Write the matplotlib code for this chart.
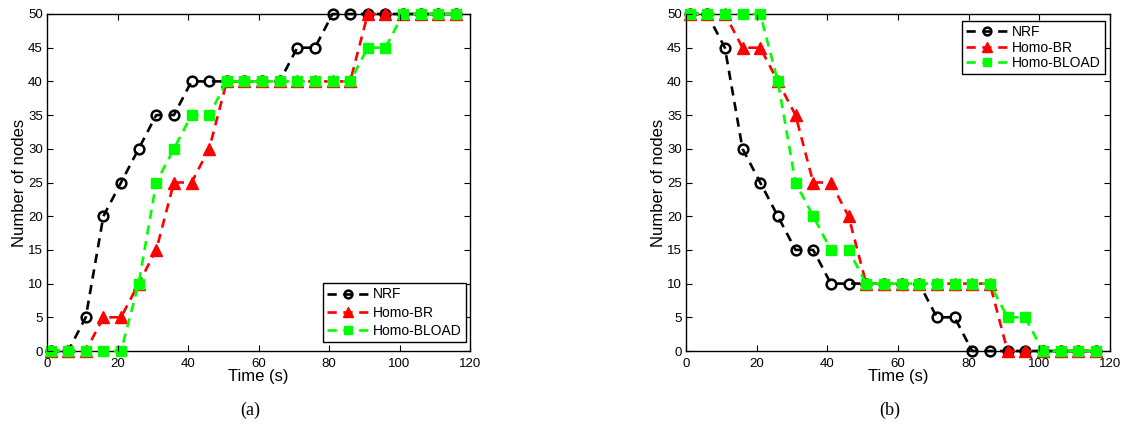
import matplotlib
matplotlib.use('Agg')
import matplotlib.pyplot as plt
import numpy as np

plt.rcParams['font.family'] = ['Liberation Sans', 'DejaVu Sans']

# time stamps (s)
t = [1, 6, 11, 16, 21, 26, 31, 36, 41, 46, 51, 56, 61, 66, 71, 76, 81, 86, 91, 96, 101, 106, 111, 116]

# (a) number of nodes
a_nrf = [0, 0, 5, 20, 25, 30, 35, 35, 40, 40, 40, 40, 40, 40, 45, 45, 50, 50, 50, 50, 50, 50, 50, 50]
a_br = [0, 0, 0, 5, 5, 10, 15, 25, 25, 30, 40, 40, 40, 40, 40, 40, 40, 40, 50, 50, 50, 50, 50, 50]
a_bload = [0, 0, 0, 0, 0, 10, 25, 30, 35, 35, 40, 40, 40, 40, 40, 40, 40, 40, 45, 45, 50, 50, 50, 50]

# (b) number of nodes
b_nrf = [50, 50, 45, 30, 25, 20, 15, 15, 10, 10, 10, 10, 10, 10, 5, 5, 0, 0, 0, 0, 0, 0, 0, 0]
b_br = [50, 50, 50, 45, 45, 40, 35, 25, 25, 20, 10, 10, 10, 10, 10, 10, 10, 10, 0, 0, 0, 0, 0, 0]
b_bload = [50, 50, 50, 50, 50, 40, 25, 20, 15, 15, 10, 10, 10, 10, 10, 10, 10, 10, 5, 5, 0, 0, 0, 0]

labels = ['NRF', 'Homo-BR', 'Homo-BLOAD']
green = '#00ff00'

fig = plt.figure(figsize=(11.26, 4.3), dpi=100)
ax1 = fig.add_axes([47/1126, 1-351/430, 423/1126, 337/430])
ax2 = fig.add_axes([686/1126, 1-351/430, 424/1126, 337/430])


def draw(ax, nrf, br, bload, loc, anchor, spacing):
    dash = (3.5, 2.5)
    ax.plot(t, nrf, color='k', linestyle='--', dashes=dash, lw=1.9, marker='o',
            ms=7, mfc='none', mew=1.8, label=labels[0], clip_on=False, zorder=3)
    ax.plot(t, br, color='r', linestyle='--', dashes=dash, lw=1.9, marker='^',
            ms=8.5, mfc='r', mec='r', label=labels[1], clip_on=False, zorder=3)
    ax.plot(t, bload, color=green, linestyle='--', dashes=dash, lw=1.9, marker='s',
            ms=6.5, mfc=green, mec=green, label=labels[2], clip_on=False, zorder=3)
    ax.set_xlim(0, 120)
    ax.set_ylim(0, 50)
    ax.set_xticks(np.arange(0, 121, 20))
    ax.set_yticks(np.arange(0, 51, 5))
    ax.tick_params(direction='in', top=True, right=True, labelsize=9.5, length=4)
    ax.tick_params(axis='x', pad=5)
    ax.tick_params(axis='y', pad=3)
    ax.xaxis.set_zorder(4)
    ax.yaxis.set_zorder(4)
    for s in ax.spines.values():
        s.set_linewidth(1.0)
    ax.set_xlabel('Time (s)', fontsize=12, labelpad=-1)
    ax.set_ylabel('Number of nodes', fontsize=12, labelpad=1)
    leg = ax.legend(loc=loc, bbox_to_anchor=anchor, fontsize=10, fancybox=False,
                    framealpha=1, edgecolor='k', handlelength=3.0, borderpad=0.3,
                    labelspacing=spacing, handletextpad=0.3, borderaxespad=0,
                    markerscale=0.8)
    leg.get_frame().set_linewidth(1.0)
    leg.set_zorder(5)


draw(ax1, a_nrf, a_br, a_bload, 'lower right', (0.9905, 0.027), 0.3)
draw(ax2, b_nrf, b_br, b_bload, 'upper right', (0.988, 0.979), 0.1)

fig.text(250/1126, 1-410/430, '(a)', ha='center', va='center', fontsize=13,
         family='Liberation Serif')
fig.text(890/1126, 1-410/430, '(b)', ha='center', va='center', fontsize=13,
         family='Liberation Serif')

fig.savefig('out.png', dpi=100)
